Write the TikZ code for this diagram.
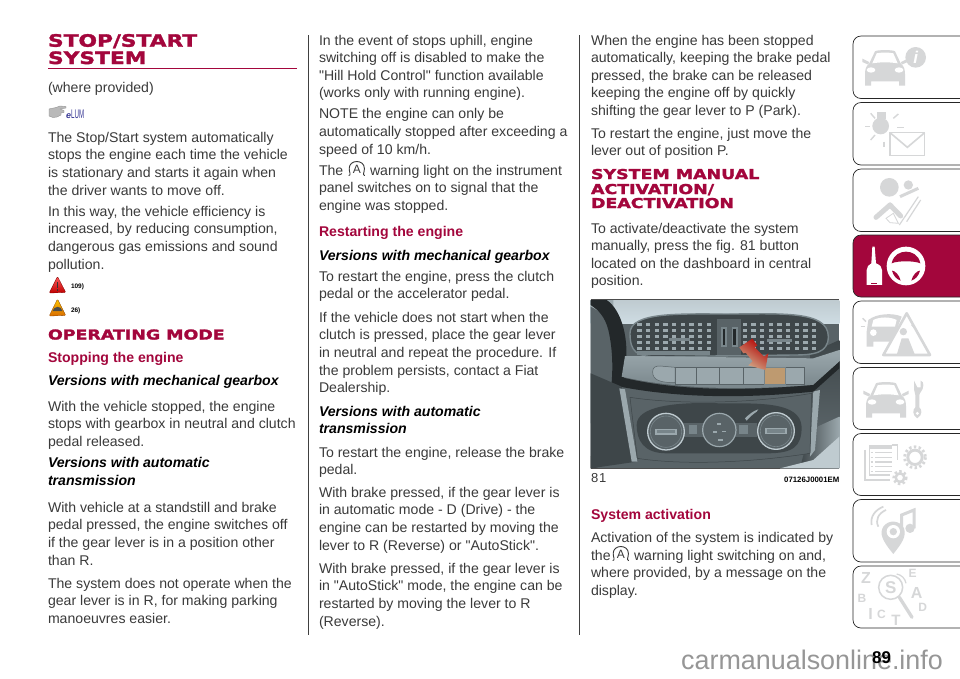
\documentclass[tikz,border=0pt]{standalone}
\usepackage{fontspec}
\setmainfont[Ligatures=TeXOff]{Liberation Sans}
\newfontfamily\headfont[FakeStretch=1.28,FakeBold=2]{DejaVu Sans Bold}
\usetikzlibrary{shapes.geometric}
\definecolor{crim}{HTML}{A3063C}
\definecolor{txtc}{HTML}{3A3A3A}
\definecolor{icon}{HTML}{D6D7D8}
\definecolor{pa}{HTML}{23282A}
\definecolor{pb}{HTML}{3E4649}
\definecolor{pc}{HTML}{596367}
\definecolor{pd}{HTML}{78858A}
\definecolor{pe}{HTML}{9BA8AD}
\definecolor{pf}{HTML}{BFCBD0}
\definecolor{pg}{HTML}{CEDCE3}
\newcounter{ln}
\newcommand\bodyf{\fontsize{14.1}{17}\selectfont}
\tikzset{
  txt/.style={anchor=base west,inner sep=0pt,outer sep=0pt,text=txtc,font=\bodyf},
  sub/.style={anchor=base west,inner sep=0pt,outer sep=0pt,text=crim,font=\bodyf\bfseries},
  ver/.style={anchor=base west,inner sep=0pt,outer sep=0pt,text=black,font=\bodyf\bfseries\itshape},
  hbig/.style={anchor=base west,inner sep=0pt,outer sep=0pt,text=crim,font=\fontsize{17}{17}\selectfont\headfont},
  hsmall/.style={anchor=base west,inner sep=0pt,outer sep=0pt,text=crim,font=\fontsize{13.6}{15}\selectfont\headfont},
  tiny/.style={anchor=base west,inner sep=0pt,outer sep=0pt,text=black,font=\fontsize{6.5}{7}\selectfont\bfseries},
  tabbox/.style={draw=black!85,line width=0.7pt,fill=white,rounded corners=8pt},
  rule/.style={draw=black!75,line width=0.8pt},
  ic/.style={fill=icon,draw=none},
}
\newcommand\T[4][txt]{\stepcounter{ln}\node[#1] (t\arabic{ln}) at (#2,#3) {#4};}
\newcommand\tabshape[3]{\path[tabbox,#3] (980,#1) -- (853,#1) -- (853,#2) -- (980,#2);}
\newcommand\autoA[2]{%
  \begin{scope}[shift={(#1,#2)}]
    \draw[txtc,line width=0.9pt,line cap=round] (-7.8,0.5) .. controls (-5.5,-0.2) and (-7.6,-2.5) .. (-7.6,-6.5) .. controls (-7.6,-11) and (-4,-13.5) .. (0,-13.5) .. controls (4,-13.5) and (7.6,-11) .. (7.6,-6.5) .. controls (7.6,-2.5) and (5.5,-0.2) .. (7.8,0.5);
    \node[anchor=base,inner sep=0pt,text=txtc,font=\fontsize{12}{12}\selectfont] (a#1) at (0,-2) {A};
  \end{scope}}
\newcommand\caricon[2]{%
  \begin{scope}[shift={(#1,#2)}]
    \path[ic] (-48,40) -- (-30,2) .. controls (-25,-3) and (25,-3) .. (30,2) -- (48,40) .. controls (58,46) and (60,60) .. (60,70) -- (60,105) -- (42,105) -- (42,92) -- (-42,92) -- (-42,105) -- (-60,105) -- (-60,70) .. controls (-60,60) and (-58,46) .. (-48,40) -- cycle;
    \path[ic] (-48,34) -- (-68,24) -- (-68,34) -- (-50,42) -- cycle;
    \path[ic] (48,34) -- (68,24) -- (68,34) -- (50,42) -- cycle;
    \path[fill=white] (-25,8) .. controls (-15,5) and (15,5) .. (25,8) -- (38,38) .. controls (15,34) and (-15,34) .. (-38,38) -- cycle;
    \path[fill=white] (-42,58) ellipse[x radius=13,y radius=8];
    \path[fill=white] (42,58) ellipse[x radius=13,y radius=8];
  \end{scope}}
\newcommand\gearicon[4]{%
  \draw[icon,line width=#4*1.6pt,dash pattern=on 2.4pt off 2.4pt] (#1,#2) circle[radius=#3*1.05];
  \draw[icon,line width=#4*1.6pt] (#1,#2) circle[radius=#3*0.72];}
\begin{document}
\begin{tikzpicture}[x=1pt,y=-1pt]
\useasboundingbox (0,0) rectangle (960,678);
\fill[white] (0,0) rectangle (960,678);
\coordinate (r1a) at (308,35); \coordinate (r1b) at (308,635);
\coordinate (r2a) at (579,35); \coordinate (r2b) at (579,635);
\draw[rule] (r1a) -- (r1b);
\draw[rule] (r2a) -- (r2b);
% column 1
\T[hbig]{48}{46.7}{STOP/START}
\T[hbig]{48}{64}{SYSTEM}
\coordinate (ha) at (48,68.3); \coordinate (hb) at (296.5,68.3);
\draw[crim,line width=1.3pt] (ha) -- (hb);
\T{48}{92}{(where provided)}
% hand + logo
\path[fill=gray!55,draw=gray!85,line width=0.4pt,line join=round] (49,109) -- (56,107.5) -- (60,106) -- (66,106.5) -- (66,108) -- (60,109) -- (64,110.5) -- (64,112.5) -- (61,113) -- (61,115) -- (57,117) -- (53,117.5) -- (49,116) -- cycle;
\node[anchor=base west,inner sep=0pt,text=black!35!blue!55!gray,font=\fontsize{9}{9}\selectfont] (lum) at (66,118) {\textit{\textbf{e}}};
\node[anchor=base west,inner sep=0pt,text=black!35!blue!55!gray,font=\fontsize{10}{10}\selectfont] (lumb) at (71,118) {\scalebox{.62}[1.25]{LUM}};
\T{48}{142}{The Stop/Start system automatically}
\T{48}{159.7}{stops the engine each time the vehicle}
\T{48}{177.4}{is stationary and starts it again when}
\T{48}{195}{the driver wants to move off.}
\T{48}{216}{In this way, the vehicle efficiency is}
\T{48}{233.7}{increased, by reducing consumption,}
\T{48}{251.4}{dangerous gas emissions and sound}
\T{48}{269}{pollution.}
% warning triangles
\shade[top color=red!65!white,bottom color=red!75!black,draw=red!50!black,line width=.3pt,line join=round,rounded corners=1pt] (57.5,276.5) -- (65.8,292.5) -- (49.2,293) -- cycle;
\path[fill=black!80] (56.8,282) rectangle (58.4,288);
\path[fill=black!80] (56.8,289) rectangle (58.4,290.6);
\T[tiny]{71}{288.5}{109)}
\shade[top color=yellow!55!orange,bottom color=orange!85!black,draw=black!45!orange,line width=.3pt,line join=round,rounded corners=1pt] (57.5,299) -- (65.8,315.5) -- (49.2,316) -- cycle;
\path[fill=black!70] (52.5,311) .. controls (54,306) and (61,305) .. (62.5,311) -- cycle;
\T[tiny]{71}{312}{26)}
\T[hsmall]{48}{339.5}{OPERATING MODE}
\T[sub]{48}{362}{Stopping the engine}
\T[ver]{48}{385.5}{Versions with mechanical gearbox}
\T{48}{411}{With the vehicle stopped, the engine}
\T{48}{428.7}{stops with gearbox in neutral and clutch}
\T{48}{446.4}{pedal released.}
\T[ver]{48}{467.5}{Versions with automatic}
\T[ver]{48}{485}{transmission}
\T{48}{512}{With vehicle at a standstill and brake}
\T{48}{529.7}{pedal pressed, the engine switches off}
\T{48}{547.4}{if the gear lever is in a position other}
\T{48}{565}{than R.}
\T{48}{588}{The system does not operate when the}
\T{48}{605.7}{gear lever is in R, for making parking}
\T{48}{623.4}{manoeuvres easier.}
% column 2
\T{319}{45}{In the event of stops uphill, engine}
\T{319}{62.6}{switching off is disabled to make the}
\T{319}{80.2}{"Hill Hold Control" function available}
\T{319}{97.8}{(works only with running engine).}
\T{319}{118.8}{NOTE the engine can only be}
\T{319}{136.4}{automatically stopped after exceeding a}
\T{319}{154}{speed of 10 km/h.}
\T{319}{175}{The}
\autoA{356.8}{175}
\T{370}{175}{warning light on the instrument}
\T{319}{192.7}{panel switches on to signal that the}
\T{319}{210.3}{engine was stopped.}
\T[sub]{319}{236}{Restarting the engine}
\T[ver]{319}{260}{Versions with mechanical gearbox}
\T{319}{281}{To restart the engine, press the clutch}
\T{319}{298.7}{pedal or the accelerator pedal.}
\T{319}{322}{If the vehicle does not start when the}
\T{319}{339.7}{clutch is pressed, place the gear lever}
\T{319}{357.4}{in neutral and repeat the procedure. If}
\T{319}{375}{the problem persists, contact a Fiat}
\T{319}{392.7}{Dealership.}
\T[ver]{319}{416}{Versions with automatic}
\T[ver]{319}{433.7}{transmission}
\T{319}{457}{To restart the engine, release the brake}
\T{319}{474.7}{pedal.}
\T{319}{497}{With brake pressed, if the gear lever is}
\T{319}{514.7}{in automatic mode - D (Drive) - the}
\T{319}{532.4}{engine can be restarted by moving the}
\T{319}{550}{lever to R (Reverse) or "AutoStick".}
\T{319}{573}{With brake pressed, if the gear lever is}
\T{319}{590.7}{in "AutoStick" mode, the engine can be}
\T{319}{608.4}{restarted by moving the lever to R}
\T{319}{626}{(Reverse).}
% column 3
\T{591}{45}{When the engine has been stopped}
\T{591}{62.6}{automatically, keeping the brake pedal}
\T{591}{80.2}{pressed, the brake can be released}
\T{591}{97.8}{keeping the engine off by quickly}
\T{591}{115.4}{shifting the gear lever to P (Park).}
\T{591}{138}{To restart the engine, just move the}
\T{591}{155.6}{lever out of position P.}
\T[hsmall]{591}{179}{SYSTEM MANUAL}
\T[hsmall]{591}{194}{ACTIVATION/}
\T[hsmall]{591}{208}{DEACTIVATION}
\T{591}{233}{To activate/deactivate the system}
\T{591}{250.6}{manually, press the fig. 81 button}
\T{591}{268.2}{located on the dashboard in central}
\T{591}{285.8}{position.}
% photo
\begin{scope}[shift={(580,290)},x=0.3333pt,y=-0.3333pt]
 \draw[black!70,line width=.8pt] (32,29) -- (778,29);
 \draw[black!70,line width=.8pt] (32,535) -- (778,535);
 \clip (32,30) rectangle (778,535);
 \fill[pc] (32,30) rectangle (778,535);
 \shade[top color=pf,bottom color=pg] (32,30) rectangle (778,100);
 \fill[pe] (32,30) -- (100,30) -- (100,300) -- (32,400) -- cycle;
 \fill[pc] (32,50) .. controls (90,80) and (115,120) .. (110,220) .. controls (100,350) and (60,450) .. (32,500) -- cycle;
 \fill[pa] (80,30) .. controls (125,60) and (150,150) .. (135,240) .. controls (120,340) and (90,430) .. (60,530) -- (32,535) -- (32,500) .. controls (85,400) and (115,250) .. (85,120) .. controls (75,80) and (55,60) .. (32,45) -- (32,30) -- cycle;
 % right area
 \shade[top color=pb,bottom color=pc] (690,190) -- (778,150) -- (778,400) -- (700,420) -- cycle;
 \shade[left color=pb,right color=pe] (690,420) -- (778,380) -- (778,535) -- (660,535) -- cycle;
 \fill[pf] (700,510) -- (778,440) -- (778,535) -- (600,535) -- cycle;
 % vent housing
 \path[fill=pb,draw=pd,line width=1.4pt] (150,130) .. controls (150,65) and (300,72) .. (440,72) .. controls (600,72) and (745,60) .. (745,140) .. controls (745,190) and (700,195) .. (640,195) -- (230,200) .. controls (170,200) and (150,185) .. (150,130) -- cycle;
 \foreach \yy in {100,118,136,154,170}{
  \foreach \xx in {172,198,...,392}{\fill[pe] (\xx,\yy) rectangle +(13,9);}
  \foreach \xx in {488,514,...,700}{\fill[pe] (\xx,\yy) rectangle +(13,9);}
 }
 \fill[pd] (268,145) rectangle (330,152);
 \fill[pd] (560,148) rectangle (635,155);
 \fill[pd] (170,182) rectangle (390,195);
 \fill[pc] (410,88) rectangle (482,195);
 \fill[pd] (422,112) rectangle (440,170);
 \fill[pd] (455,112) rectangle (473,170);
 \fill[pa] (428,118) rectangle (436,165);
 \fill[pa] (460,118) rectangle (468,165);
 % strip
 \shade[top color=pe,bottom color=pd] (135,198) -- (700,205) -- (778,180) -- (778,215) -- (700,285) .. controls (500,300) and (300,300) .. (125,260) -- cycle;
 \foreach \a/\b in {285/350,350/418,418/490,490/552,615/672}{
  \path[fill=pe,draw=pc,line width=.5pt] (\a,232) rectangle (\b,284);}
 \path[fill=pe,draw=pc,line width=.5pt] (218,246) .. controls (218,232) and (225,228) .. (240,228) -- (285,232) -- (285,278) .. controls (240,278) and (218,270) .. (218,246) -- cycle;
 \path[fill=orange!35!pe,draw=pd,line width=.5pt] (552,232) rectangle (615,284);
 % dark strip
 \fill[pa] (125,262) .. controls (300,305) and (500,302) .. (700,285) -- (778,215) -- (778,235) -- (700,305) .. controls (500,325) and (300,325) .. (120,290) -- cycle;
 % lower panel
 \fill[pb] (32,250) -- (125,290) -- (170,515) -- (32,535) -- cycle;
 \fill[pe] (118,295) -- (135,298) -- (172,515) -- (155,515) -- cycle;
 \fill[pe] (700,305) -- (720,300) -- (705,480) -- (690,500) -- cycle;
 \path[fill=pc,draw=pb,line width=.5pt] (150,322) .. controls (300,345) and (520,340) .. (695,310) -- (690,490) .. controls (500,520) and (300,525) .. (172,505) -- cycle;
 \path[fill=pb] (170,405) .. controls (170,350) and (280,335) .. (420,340) .. controls (540,340) and (660,335) .. (665,410) .. controls (665,470) and (640,490) .. (560,490) -- (260,490) .. controls (190,490) and (170,450) .. (170,405) -- cycle;
 \fill[pc] (290,400) rectangle (530,440);
 \fill[pe] (495,385) .. controls (505,375) and (520,362) .. (535,358) -- (530,365) .. controls (520,372) and (510,380) .. (500,392) -- cycle;
 \foreach \kx/\ky/\kr in {258/425/55,588/423/55}{
  \path[fill=pc,draw=pf,line width=1.3pt] (\kx,\ky) circle[radius=\kr];
  \path[draw=pd,line width=.6pt] (\kx,\ky) circle[radius=\kr-8];
  \fill[pe] (\kx-32,\ky-9) rectangle (\kx+32,\ky+9);
  \fill[pd] (\kx-26,\ky-5) rectangle (\kx+26,\ky+5);
 }
 \path[fill=pc,draw=pe,line width=1.2pt] (418,420) circle[radius=50];
 \fill[pe] (410,400) rectangle +(14,5);
 \fill[pe] (425,422) rectangle +(14,5);
 \fill[pe] (400,424) rectangle +(10,5);
 \fill[pe] (415,448) rectangle +(14,5);
 \fill[pd] (328,405) rectangle (352,432);
 \fill[pd] (478,405) rectangle (505,432);
 % arrow
 \shade[top color=red!70!black,bottom color=orange!30!pf,shading angle=-35] (478,172) -- (517,146) -- (532,166) -- (524,172) -- (552,200) -- (565,190) -- (556,240) -- (505,226) -- (518,214) -- (497,188) -- (490,190) -- cycle;
\end{scope}
\T[txt,font=\fontsize{13}{14}\selectfont]{591}{482.5}{8\kern1pt 1}
\T[anchor=base east,inner sep=0pt,text=black,font=\fontsize{7.8}{9}\selectfont\bfseries]{839.5}{482}{07126J0001EM}
\T[sub]{591}{519}{System activation}
\T{591}{542}{Activation of the system is indicated by}
\T{591}{560}{the}
\autoA{620.8}{560}
\T{634}{560}{warning light switching on and,}
\T{591}{577.6}{where provided, by a message on the}
\T{591}{595.2}{display.}
% side tabs
\begin{scope}
\clip (840,0) rectangle (960,678);
\tabshape{36}{98.5}{}
\tabshape{102.5}{165}{}
\tabshape{169}{231.5}{}
\tabshape{235}{297}{fill=crim}
\tabshape{301}{363.5}{}
\tabshape{367.5}{429.5}{}
\tabshape{433.5}{495.5}{}
\tabshape{499.5}{562}{}
\tabshape{566}{628}{}
\end{scope}
\begin{scope}[shift={(840,30)},x=0.3333pt,y=-0.3333pt]
 % tab1
 \caricon{135}{62}
 \fill[icon] (227,82) circle[radius=31];
 \node[inner sep=0pt,text=white,font=\fontsize{17}{17}\selectfont\bfseries\itshape] (info) at (227,82) {i};
 % tab2
 \fill[icon] (122,288) circle[radius=25];
 \fill[icon] (112,247) rectangle (138,268);
 \draw[icon,line width=1.4pt] (75,290) -- (90,290);
 \draw[icon,line width=1.4pt] (92,250) -- (105,265);
 \draw[icon,line width=1.4pt] (175,252) -- (160,265);
 \draw[icon,line width=1.4pt] (172,292) -- (192,292);
 \draw[icon,line width=1.4pt] (92,330) -- (105,315);
 \draw[icon,line width=1.4pt] (132,335) -- (132,350);
 \path[fill=white,draw=icon,line width=1.6pt] (150,308) rectangle (254,377);
 \draw[icon,line width=1.6pt] (150,308) -- (202,352) -- (254,308);
 % tab3
 \fill[icon] (148,472) circle[radius=28];
 \fill[icon] (205,465) circle[radius=14];
 \draw[icon,line width=5pt,line cap=round] (150,525) -- (108,562);
 \draw[icon,line width=5pt,line cap=round] (150,525) -- (182,558);
 \draw[icon,line width=3pt] (180,500) -- (235,475);
 \draw[icon,line width=1.2pt] (178,585) -- (235,500);
 \draw[icon,line width=1.2pt] (200,575) -- (242,510);
 \path[draw=icon,line width=.8pt] (138,565) -- (160,550) -- (175,580) -- (150,578) -- cycle;
 % tab4
 \path[fill=white] (97,650) -- (104,650) -- (108,700) .. controls (120,705) and (126,710) .. (126,720) -- (126,765) -- (80,765) -- (80,720) .. controls (80,710) and (86,705) .. (94,700) -- cycle;
 \fill[crim] (92,758) rectangle (112,763);
 \fill[white] (198,708) circle[radius=58];
 \path[fill=crim] (155,700) .. controls (160,675) and (180,665) .. (198,665) .. controls (216,665) and (236,675) .. (241,700) .. controls (225,692) and (170,692) .. (155,700) -- cycle;
 \path[fill=crim] (156,722) .. controls (165,722) and (178,735) .. (182,752) .. controls (170,748) and (160,738) .. (156,722) -- cycle;
 \path[fill=crim] (240,722) .. controls (231,722) and (218,735) .. (214,752) .. controls (226,748) and (236,738) .. (240,722) -- cycle;
 % tab5
 \path[ic] (85,870) .. controls (110,850) and (160,848) .. (185,860) -- (170,900) -- (170,945) -- (150,945) -- (150,935) -- (100,935) -- (100,950) -- (80,950) -- (80,905) -- cycle;
 \path[fill=white] (100,870) .. controls (120,860) and (150,860) .. (170,870) -- (165,890) -- (95,890) -- cycle;
 \fill[white] (100,908) circle[radius=10];
 \draw[icon,line width=1.3pt] (62,890) -- (75,890);
 \draw[icon,line width=1.3pt] (68,865) -- (78,875);
 \path[fill=white,draw=icon,line width=2.6pt,line join=round] (200,850) -- (270,975) -- (130,975) -- cycle;
 \fill[icon] (190,905) circle[radius=11];
 \path[ic] (170,975) -- (185,925) -- (205,925) -- (225,975) -- cycle;
 \draw[icon,line width=1.3pt] (215,885) -- (225,895);
\end{scope}
\begin{scope}[shift={(840,350)},x=0.3333pt,y=-0.3333pt]
 % tab6
 \caricon{138}{98}
 \path[ic] (222,92) -- (222,118) .. controls (222,125) and (226,128) .. (226,135) -- (226,172) .. controls (218,178) and (216,195) .. (232,205) .. controls (248,195) and (246,178) .. (238,172) -- (238,135) .. controls (238,128) and (250,122) .. (250,105) .. controls (250,98) and (248,94) .. (242,92) -- (242,112) -- (232,112) -- (222,92) -- cycle;
 \fill[white] (232,190) circle[radius=5];
 % tab7
 \draw[icon,line width=1.7pt] (74,300) -- (74,390) -- (150,390);
 \fill[icon] (88,285) rectangle (155,298);
 \draw[icon,line width=1.3pt] (88,285) -- (88,375) -- (150,375);
 \draw[icon,line width=1.3pt] (155,285) -- (172,285) -- (172,330);
 \foreach \yy in {308,322,336,350,364}{
  \draw[icon,line width=1.2pt] (92,\yy) -- (100,\yy);
  \draw[icon,line width=1.2pt] (106,\yy) -- (155,\yy);}
 \gearicon{225}{322}{30}{1.8}
 \gearicon{180}{383}{18}{1.6}
 % tab8
 \path[ic] (160,612) .. controls (125,570) and (118,550) .. (130,530) .. controls (145,508) and (180,510) .. (192,535) .. controls (200,560) and (185,580) .. (160,612) -- cycle;
 \fill[white] (160,545) circle[radius=20];
 \fill[icon] (160,545) circle[radius=11];
 \draw[icon,line width=3pt] (185,535) -- (185,495) -- (222,480) -- (222,535);
 \fill[icon] (210,535) circle[radius=14];
 \draw[icon,line width=1.7pt] (115,530) .. controls (105,510) and (115,490) .. (138,480);
 \draw[icon,line width=1.7pt] (95,525) .. controls (90,500) and (105,480) .. (130,470);
 % tab9
 \foreach \nm/\px/\py/\sz in {Z/78/685/16,E/218/670/12,B/66/745/12,A/230/730/16,D/248/773/12,I/92/792/16,C/124/792/12,T/168/810/15}{
  \node[inner sep=0pt,text=icon,font=\fontsize{\sz}{\sz}\selectfont\bfseries] (l\nm) at (\px,\py) {\nm};}
 \draw[icon,line width=1.5pt] (152,712) circle[radius=36];
 \node[inner sep=0pt,text=icon,font=\fontsize{17}{17}\selectfont\bfseries] (lS) at (152,712) {S};
 \draw[icon,line width=3.3pt,line cap=round] (178,742) -- (216,802);
 \draw[icon,line width=1.2pt] (170,672) .. controls (185,675) and (195,685) .. (198,700);
\end{scope}
% footer
\T[anchor=base west,inner sep=0pt,text=black!41,font=\fontsize{26.9}{27}\selectfont]{681}{669}{carmanualsonline.info}
\T[anchor=base west,inner sep=0pt,text=black,font=\fontsize{17}{18}\selectfont\bfseries]{872}{663}{89}
\end{tikzpicture}
\end{document}
